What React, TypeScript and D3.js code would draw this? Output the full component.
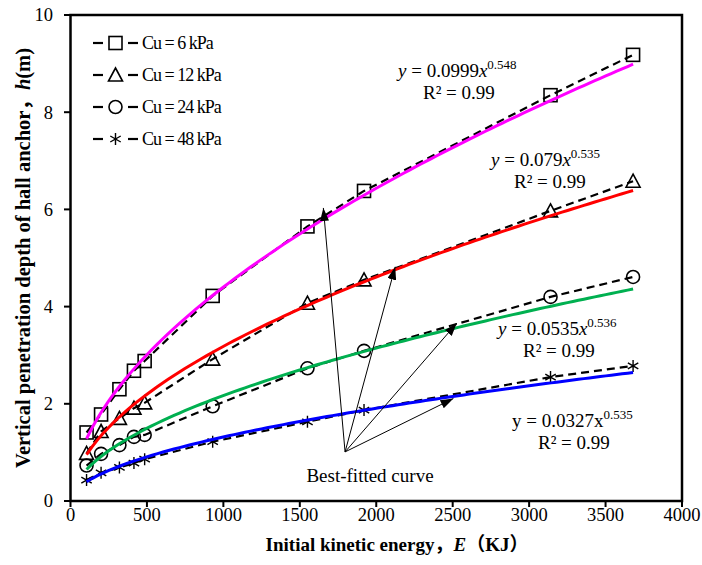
import React from "react";
import * as d3 from "d3";

const energies = [105, 200, 320, 415, 485, 930, 1550, 1920, 3140, 3680];
const cu6 = [1.41, 1.78, 2.3, 2.68, 2.88, 4.22, 5.65, 6.38, 8.35, 9.18];
const cu12 = [0.98, 1.43, 1.7, 1.91, 2.02, 2.92, 4.07, 4.55, 5.97, 6.58];
const cu24 = [0.73, 0.97, 1.15, 1.32, 1.36, 1.95, 2.73, 3.09, 4.2, 4.61];
const cu48 = [0.43, 0.58, 0.69, 0.78, 0.86, 1.22, 1.63, 1.87, 2.55, 2.78];
const seriesNames = ["Cu = 6 kPa", "Cu = 12 kPa", "Cu = 24 kPa", "Cu = 48 kPa"];
const markerTypes = ["square", "triangle", "circle", "star"];
const fitA = [0.0999, 0.079, 0.0535, 0.0327];
const fitB = [0.548, 0.535, 0.536, 0.535];
const fitColors = ["#ff00ff", "#ff0000", "#00b050", "#0000ff"];
const xTicks = [0, 500, 1000, 1500, 2000, 2500, 3000, 3500, 4000];
const yTicks = [0, 2, 4, 6, 8, 10];
const arrowOrigin = [1796, 1.01];
const arrowTips = [
  [1654, 6.03],
  [2124, 4.82],
  [2527, 3.66],
  [2505, 2.11],
];

const W = 702;
const H = 565;
const x = d3.scaleLinear().domain([0, 4000]).range([70.5, 682]);
const y = d3.scaleLinear().domain([0, 10]).range([501, 15]);
const FONT = "'Times New Roman', 'Liberation Serif', 'Noto Sans CJK SC', serif";

function Marker({ type, cx, cy }: { type: string; cx: number; cy: number }) {
  const st = { fill: "none", stroke: "#000", strokeWidth: 1.6 };
  if (type === "square") return <rect x={cx - 6.5} y={cy - 6.5} width={13} height={13} {...st} />;
  if (type === "triangle")
    return <path d={`M${cx},${cy - 7} L${cx + 7},${cy + 6} L${cx - 7},${cy + 6} Z`} {...st} />;
  if (type === "circle") return <circle cx={cx} cy={cy} r={6.5} {...st} />;
  const r = 6;
  return (
    <path
      d={`M${cx},${cy - r} L${cx},${cy + r} M${cx - r * 0.87},${cy - r * 0.5} L${cx + r * 0.87},${cy + r * 0.5} M${cx - r * 0.87},${cy + r * 0.5} L${cx + r * 0.87},${cy - r * 0.5}`}
      stroke="#000"
      strokeWidth={1.4}
      fill="none"
    />
  );
}

export default function App() {
  const series = [cu6, cu12, cu24, cu48];
  const line = d3
    .line<[number, number]>()
    .x((d) => x(d[0]))
    .y((d) => y(d[1]));
  const e0 = energies[0];
  const e1 = energies[energies.length - 1];
  const sampleX = d3.range(0, 101).map((i) => e0 + ((e1 - e0) * i) / 100);

  const eqs = [
    { x: 398, y: 77, a: "0.0999", b: "0.548", italic: true, rx: 423, ry: 99 },
    { x: 491, y: 166, a: "0.079", b: "0.535", italic: true, rx: 514, ry: 188 },
    { x: 498, y: 335, a: "0.0535", b: "0.536", italic: true, rx: 523, ry: 357 },
    { x: 512, y: 427, a: "0.0327", b: "0.535", italic: false, rx: 538, ry: 449 },
  ];

  return (
    <svg
      width={W}
      height={H}
      style={{ position: "absolute", left: 0, top: 0, background: "#fff" }}
      fontFamily={FONT}
    >
      <defs>
        <marker id="ah" viewBox="0 0 13 9" refX="13" refY="4.5" markerWidth="13" markerHeight="9" markerUnits="userSpaceOnUse" orient="auto">
          <path d="M0,0 L13,4.5 L0,9 Z" fill="#000" />
        </marker>
      </defs>
      <rect width={W} height={H} fill="#fff" />

      {series.map((s, i) => (
        <g key={"s" + i}>
          <path
            d={line(energies.map((e, j) => [e, s[j]]) as [number, number][]) || ""}
            fill="none"
            stroke="#000"
            strokeWidth={2.2}
            strokeDasharray="8 5"
          />
          {energies.map((e, j) => (
            <Marker key={j} type={markerTypes[i]} cx={x(e)} cy={y(s[j])} />
          ))}
        </g>
      ))}

      {fitA.map((a, i) => (
        <path
          key={"f" + i}
          d={line(sampleX.map((e) => [e, a * Math.pow(e, fitB[i])]) as [number, number][]) || ""}
          fill="none"
          stroke={fitColors[i]}
          strokeWidth={3}
        />
      ))}

      {arrowTips.map((t, i) => (
        <line
          key={"a" + i}
          x1={x(arrowOrigin[0])}
          y1={y(arrowOrigin[1])}
          x2={x(t[0])}
          y2={y(t[1])}
          stroke="#000"
          strokeWidth={1}
          markerEnd="url(#ah)"
        />
      ))}
      <text x={370} y={482} fontSize={19} textAnchor="middle" fill="#000">
        Best-fitted curve
      </text>

      {eqs.map((q, i) => (
        <g key={"e" + i} fontSize={19} fill="#000">
          <text x={q.x} y={q.y}>
            <tspan fontStyle={q.italic ? "italic" : "normal"}>y</tspan>
            <tspan> = {q.a}</tspan>
            <tspan fontStyle={q.italic ? "italic" : "normal"}>x</tspan>
            <tspan fontSize={13} dy={-8}>{q.b}</tspan>
          </text>
          <text x={q.rx} y={q.ry}>
            R² = 0.99
          </text>
        </g>
      ))}

      <rect x={70.5} y={15} width={682 - 70.5} height={501 - 15} fill="none" stroke="#000" strokeWidth={2.5} />

      {xTicks.map((t) => (
        <g key={"xt" + t}>
          <line x1={x(t)} x2={x(t)} y1={501} y2={507} stroke="#000" strokeWidth={2} />
          <text x={x(t)} y={521} fontSize={18.5} textAnchor="middle" fill="#000">
            {t}
          </text>
        </g>
      ))}
      {yTicks.map((t) => (
        <g key={"yt" + t}>
          <line x1={64} x2={70.5} y1={y(t)} y2={y(t)} stroke="#000" strokeWidth={2} />
          <text x={53} y={y(t)} dy="0.35em" fontSize={18.5} textAnchor="end" fill="#000">
            {t}
          </text>
        </g>
      ))}

      <text x={397} y={551} fontSize={19} fontWeight="bold" textAnchor="middle" fill="#000">
        Initial kinetic energy，<tspan fontStyle="italic">E</tspan>（KJ）
      </text>
      <text
        transform="translate(30,258) rotate(-90)"
        fontSize={20.5}
        fontWeight="bold"
        textAnchor="middle"
        fill="#000"
      >
        Vertical penetration depth of hall anchor，<tspan fontStyle="italic">h</tspan>(m)
      </text>

      {seriesNames.map((n, i) => {
        const ly = 43 + i * 32;
        return (
          <g key={"l" + i}>
            <line x1={93} x2={103} y1={ly} y2={ly} stroke="#000" strokeWidth={2.2} />
            <line x1={128} x2={138} y1={ly} y2={ly} stroke="#000" strokeWidth={2.2} />
            <Marker type={markerTypes[i]} cx={115.5} cy={ly} />
            <text x={142} y={ly} dy="0.35em" fontSize={18} letterSpacing={-1} fill="#000">
              {n}
            </text>
          </g>
        );
      })}
    </svg>
  );
}
